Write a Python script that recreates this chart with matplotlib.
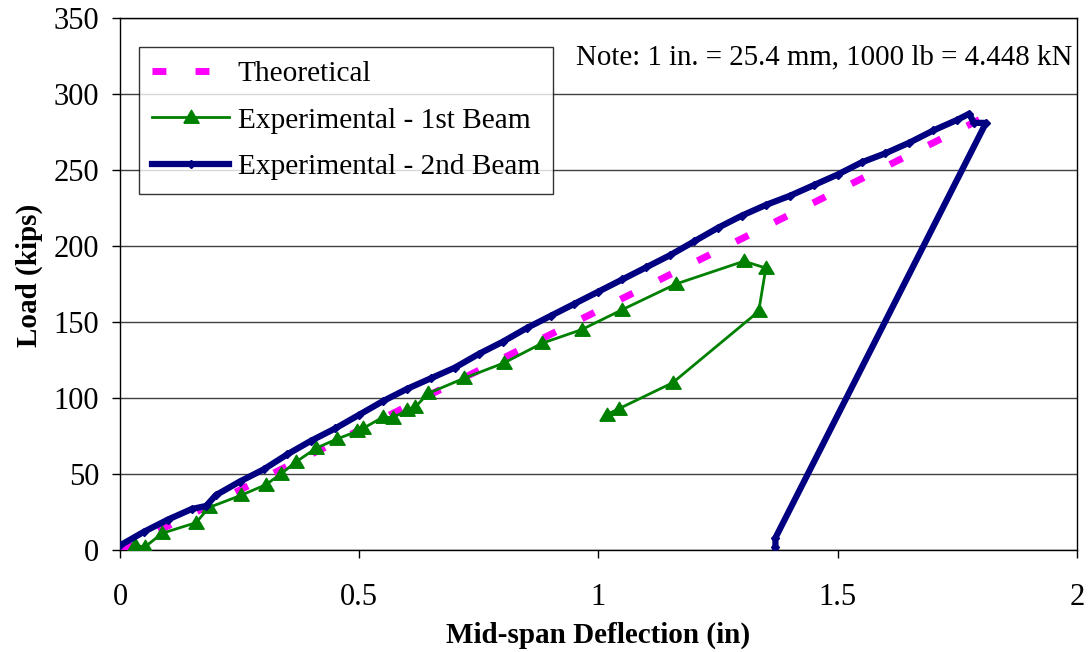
import matplotlib
matplotlib.use("Agg")
import matplotlib.pyplot as plt
import numpy as np

plt.rcParams['font.family'] = ['Liberation Serif', 'DejaVu Serif']
plt.rcParams['lines.scale_dashes'] = False

# Theoretical
theo_x = [0.0, 1.84]
theo_y = [0.0, 290.0]

# Experimental - 1st Beam
b1_x = [0.031, 0.052, 0.088, 0.159, 0.186, 0.253, 0.305, 0.336, 0.368, 0.41, 0.453, 0.495, 0.508,
        0.55, 0.57, 0.60, 0.617, 0.644, 0.719, 0.802, 0.882, 0.965, 1.049, 1.162, 1.304, 1.350,
        1.335, 1.155, 1.043, 1.017]
b1_y = [3, 2, 11, 18, 28, 36, 43, 50, 58, 67, 73, 78, 80,
        87.5, 87, 92, 94, 103, 113, 123, 136, 145, 158, 175, 190, 185.5,
        157, 110, 93, 89]

# Experimental - 2nd Beam
b2_x = [0.0, 0.05, 0.1, 0.15, 0.18, 0.2, 0.25, 0.3, 0.35, 0.4, 0.45, 0.5, 0.55, 0.6, 0.65,
        0.7, 0.75, 0.8, 0.85, 0.9, 0.95, 1.0, 1.05, 1.1, 1.15, 1.2, 1.25, 1.3, 1.35, 1.4,
        1.45, 1.5, 1.55, 1.6, 1.65, 1.7, 1.75, 1.775, 1.785, 1.81, 1.37, 1.37]
b2_y = [3, 12, 20, 27, 29, 36, 45, 53, 63, 72, 80, 89, 98, 106, 113,
        120, 129, 137, 146, 154, 162, 170, 178, 186, 194, 203, 212, 220, 227, 233,
        240, 247, 255, 261, 268, 276, 283, 287, 281, 281, 8, 2]

x_ticks = [0, 0.5, 1, 1.5, 2]
x_tick_labels = ['0', '0.5', '1', '1.5', '2']
y_ticks = [0, 50, 100, 150, 200, 250, 300, 350]

fig = plt.figure(figsize=(10.91, 6.52), dpi=100)
ax = fig.add_axes([0.110, 0.1564, 0.877, 0.816])

tri = [(-1, -0.75), (1, -0.75), (0, 0.95), (-1, -0.75)]

ax.plot(theo_x, theo_y, color='#FF00FF', lw=5, linestyle=(0, (10, 21)),
        solid_capstyle='butt', dash_capstyle='butt', label='Theoretical', zorder=3)
ax.plot(b1_x, b1_y, color='#008000', lw=2, marker=tri, markersize=11,
        label='Experimental - 1st Beam', zorder=4)
ax.plot(b2_x, b2_y, color='#000080', lw=4.5, marker='D', markersize=4.5,
        label='Experimental - 2nd Beam', zorder=5)

ax.set_xlim(0, 2)
ax.set_ylim(0, 350)
ax.set_xticks(x_ticks)
ax.set_xticklabels(x_tick_labels)
ax.set_yticks(y_ticks)
ax.yaxis.grid(True, color='#404040', lw=1)
ax.set_axisbelow(True)
ax.tick_params(direction='out', length=6, labelsize=22, width=1)
ax.tick_params(axis='x', pad=18)
ax.tick_params(axis='y', pad=9)
for s in ax.spines.values():
    s.set_color('black')
    s.set_linewidth(1)

ax.set_xlabel('Mid-span Deflection (in)', fontsize=21, fontweight='bold')
ax.set_ylabel('Load (kips)', fontsize=21, fontweight='bold')
ax.xaxis.set_label_coords(0.5, -0.135)
ax.yaxis.set_label_coords(-0.095, 0.517)
ax.xaxis.label.set_va('top')
ax.yaxis.label.set_va('center')

ax.text(0.995, 0.912, 'Note: 1 in. = 25.4 mm, 1000 lb = 4.448 kN', transform=ax.transAxes,
        ha='right', va='baseline', fontsize=20.8)

leg = ax.legend(loc='upper left', bbox_to_anchor=(0.02, 0.945), borderaxespad=0,
                prop={'size': 21.2}, frameon=True, fancybox=False, edgecolor='black',
                handlelength=2.6, handletextpad=0.3, labelspacing=0.68, borderpad=0.45)
leg.get_frame().set_linewidth(1)

fig.savefig('out.png', dpi=100)
